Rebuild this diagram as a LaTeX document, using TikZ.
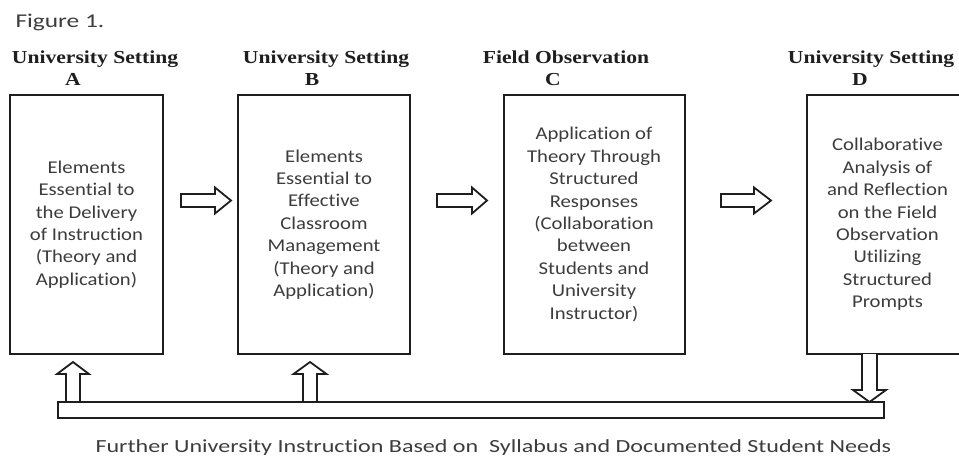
\documentclass[tikz,border=0pt]{standalone}
\usepackage{fontspec}
\newfontfamily\bodyfont{Carlito}[FakeStretch=1.15, Ligatures={NoCommon,NoRequired,NoContextual}]
\newfontfamily\notefont{Carlito}[FakeStretch=1.3, Ligatures={NoCommon,NoRequired,NoContextual}]
\newfontfamily\headfont{Liberation Serif}[FakeStretch=1.18]
\definecolor{ink}{HTML}{1E1E1E}
\definecolor{bodytext}{HTML}{3C3C3C}
\begin{document}
\begin{tikzpicture}[x=1pt,y=-1pt,
  stage/.style={draw=ink, line width=2pt, rectangle, align=center,
    text=bodytext, font=\bodyfont\fontsize{18}{22.4}\selectfont},
  heading/.style={anchor=base, text=ink, font=\headfont\bfseries\fontsize{18.3}{22}\selectfont},
  caption/.style={anchor=base west, text=bodytext, font=\notefont\fontsize{18.5}{21}\selectfont},
  blockarrow/.style={draw=ink, line width=1.8pt, fill=white, line join=miter}]
\useasboundingbox (0,0) rectangle (959,458);
\clip (0,0) rectangle (959,458);

% title
\node[caption, font=\notefont\fontsize{19.5}{21}\selectfont] (title) at (12,27) {Figure 1.};

% column headings
\node[heading] (hA) at (95,63) {University Setting};
\node[heading] (lA) at (73,85) {A};
\node[heading] (hB) at (326,63) {University Setting};
\node[heading] (lB) at (312,85) {B};
\node[heading] (hC) at (566,63) {Field Observation};
\node[heading] (lC) at (553,85) {C};
\node[heading] (hD) at (871,63) {University Setting};
\node[heading] (lD) at (860,85) {D};

% stages
\node[stage, minimum width=153pt, minimum height=259pt] (boxA) at (86.5,224.5)
  {Elements\\Essential to\\the Delivery\\of Instruction\\(Theory and\\Application)};
\node[stage, minimum width=172pt, minimum height=259pt] (boxB) at (324,224.5)
  {Elements\\Essential to\\Effective\\Classroom\\Management\\(Theory and\\Application)};
\node[stage, minimum width=181pt, minimum height=259pt] (boxC) at (594,224.5)
  {Application of\\Theory Through\\Structured\\Responses\\(Collaboration\\between\\Students and\\University\\Instructor)};
\node[stage, minimum width=161pt, minimum height=259pt] (boxD) at (887.5,224.5)
  {Collaborative\\Analysis of\\and Reflection\\on the Field\\Observation\\Utilizing\\Structured\\Prompts};

% block arrows between stages
\newcommand\blockright[4]{% tail x, head base x, tip x, centre y
  \draw[blockarrow] (#1,#4-6.5) -- (#2,#4-6.5) -- (#2,#4-13) -- (#3,#4)
    -- (#2,#4+13) -- (#2,#4+6.5) -- (#1,#4+6.5) -- cycle;}
\blockright{181}{215}{231}{200.5}
\blockright{437}{472}{487}{200.5}
\blockright{721}{754}{771}{200.5}

% feedback arrows from and to the bar
\newcommand\blockvert[6]{% centre x, shaft half, head half, start y, head base y, tip y
  \draw[blockarrow] (#1-#2,#4) -- (#1-#2,#5) -- (#1-#3,#5) -- (#1,#6)
    -- (#1+#3,#5) -- (#1+#2,#5) -- (#1+#2,#4);}
\blockvert{73}{7}{16}{402}{374}{362}
\blockvert{310}{7}{16.5}{402}{374}{362}
\blockvert{869.5}{7.5}{16.5}{354}{390}{402}

% feedback bar
\node[draw=ink, line width=1.8pt, rectangle, minimum width=826pt, minimum height=16pt,
  inner sep=0pt] (bar) at (471,410) {};

% caption under the bar
\node[caption] (further) at (92,452)
  {Further University Instruction Based on\ \ Syllabus and Documented Student Needs};
\end{tikzpicture}
\end{document}
